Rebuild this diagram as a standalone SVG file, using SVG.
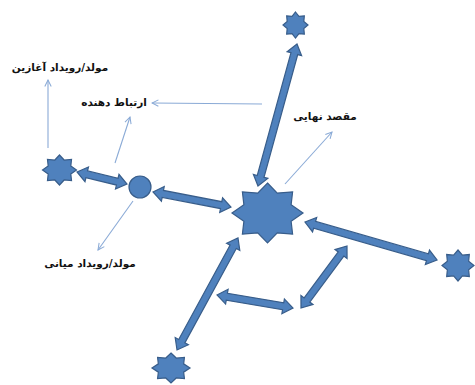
<svg xmlns="http://www.w3.org/2000/svg" xmlns:xlink="http://www.w3.org/1999/xlink" width="475" height="385" viewBox="0 0 475 385">
<style>
.shape{fill:#4F81BD;stroke:#385D8A;stroke-width:1.2;stroke-linejoin:miter}
.thin{fill:none;stroke:#8AAAD6;stroke-width:1.1}
.lbl{font-family:"DejaVu Sans","Noto Sans",sans-serif;font-size:10.5px;font-weight:bold;fill:#111;text-anchor:middle}
</style>
<defs>
<path id="star" vector-effect="non-scaling-stroke" d="M0,-1 L0.2755,-0.6652 L0.7071,-0.7071 L0.6652,-0.2755 L1,0 L0.6652,0.2755 L0.7071,0.7071 L0.2755,0.6652 L0,1 L-0.2755,0.6652 L-0.7071,0.7071 L-0.6652,0.2755 L-1,0 L-0.6652,-0.2755 L-0.7071,-0.7071 L-0.2755,-0.6652 Z"/>
<marker id="open" viewBox="0 0 10 10" refX="9" refY="5" markerWidth="8" markerHeight="8" markerUnits="userSpaceOnUse" orient="auto">
<polyline points="1,1 9,5 1,9" fill="none" stroke="#8AAAD6" stroke-width="1.3"/>
</marker>
</defs>
<rect width="475" height="385" fill="#fff"/>
<g id="connectors">
<path class="shape" transform="translate(297,44) rotate(105.36)" d="M0,0 L10,-7.5 L10,-3.5 L137.3,-3.5 L137.3,-7.5 L147.3,0 L137.3,7.5 L137.3,3.5 L10,3.5 L10,7.5 Z"/>
<path class="shape" transform="translate(77,172) rotate(13.5)" d="M0,0 L10,-7.5 L10,-3.5 L41.4,-3.5 L41.4,-7.5 L51.4,0 L41.4,7.5 L41.4,3.5 L10,3.5 L10,7.5 Z"/>
<path class="shape" transform="translate(153,192) rotate(10.9)" d="M0,0 L10,-7.5 L10,-3.5 L69.4,-3.5 L69.4,-7.5 L79.4,0 L69.4,7.5 L69.4,3.5 L10,3.5 L10,7.5 Z"/>
<path class="shape" transform="translate(305,222) rotate(16.06)" d="M0,0 L10,-7.5 L10,-3.5 L127.4,-3.5 L127.4,-7.5 L137.4,0 L127.4,7.5 L127.4,3.5 L10,3.5 L10,7.5 Z"/>
<path class="shape" transform="translate(238,238) rotate(118.58)" d="M0,0 L10,-7.5 L10,-3.5 L117.5,-3.5 L117.5,-7.5 L127.5,0 L117.5,7.5 L117.5,3.5 L10,3.5 L10,7.5 Z"/>
<path class="shape" transform="translate(217,295) rotate(9.7)" d="M0,0 L10,-7.5 L10,-3.5 L67.1,-3.5 L67.1,-7.5 L77.1,0 L67.1,7.5 L67.1,3.5 L10,3.5 L10,7.5 Z"/>
<path class="shape" transform="translate(347,246) rotate(126.57)" d="M0,0 L10,-7.5 L10,-3.5 L67.2,-3.5 L67.2,-7.5 L77.2,0 L67.2,7.5 L67.2,3.5 L10,3.5 L10,7.5 Z"/>
<line class="thin" x1="48" y1="148" x2="48" y2="80" marker-end="url(#open)"/>
<line class="thin" x1="262" y1="104" x2="152" y2="103" marker-end="url(#open)"/>
<line class="thin" x1="115" y1="163" x2="130" y2="117" marker-end="url(#open)"/>
<line class="thin" x1="133" y1="201" x2="98" y2="250" marker-end="url(#open)"/>
<line class="thin" x1="285" y1="184" x2="332" y2="132" marker-end="url(#open)"/>
</g>
<g id="star-top"><use href="#star" xlink:href="#star" class="shape" transform="translate(295.5,25) scale(12.5,13)"/></g>
<g id="star-left"><use href="#star" xlink:href="#star" class="shape" transform="translate(59.5,170) scale(17,15)"/></g>
<g id="circle-mid"><circle class="shape" cx="140" cy="187" r="11"/></g>
<g id="star-center"><use href="#star" xlink:href="#star" class="shape" transform="translate(267.5,213) scale(35.5,30)"/></g>
<g id="star-right"><use href="#star" xlink:href="#star" class="shape" transform="translate(458,265.5) scale(16,15.5)"/></g>
<g id="star-bottom"><use href="#star" xlink:href="#star" class="shape" transform="translate(171,368) scale(19,15)"/></g>
<g id="labels">
<text class="lbl" x="60" y="71" direction="rtl">مولد/رویداد آغازین</text>
<text class="lbl" x="114" y="106" direction="rtl">ارتباط دهنده</text>
<text class="lbl" x="90" y="267" direction="rtl">مولد/رویداد میانی</text>
<text class="lbl" x="325" y="120" direction="rtl">مقصد نهایی</text>
</g>
</svg>
